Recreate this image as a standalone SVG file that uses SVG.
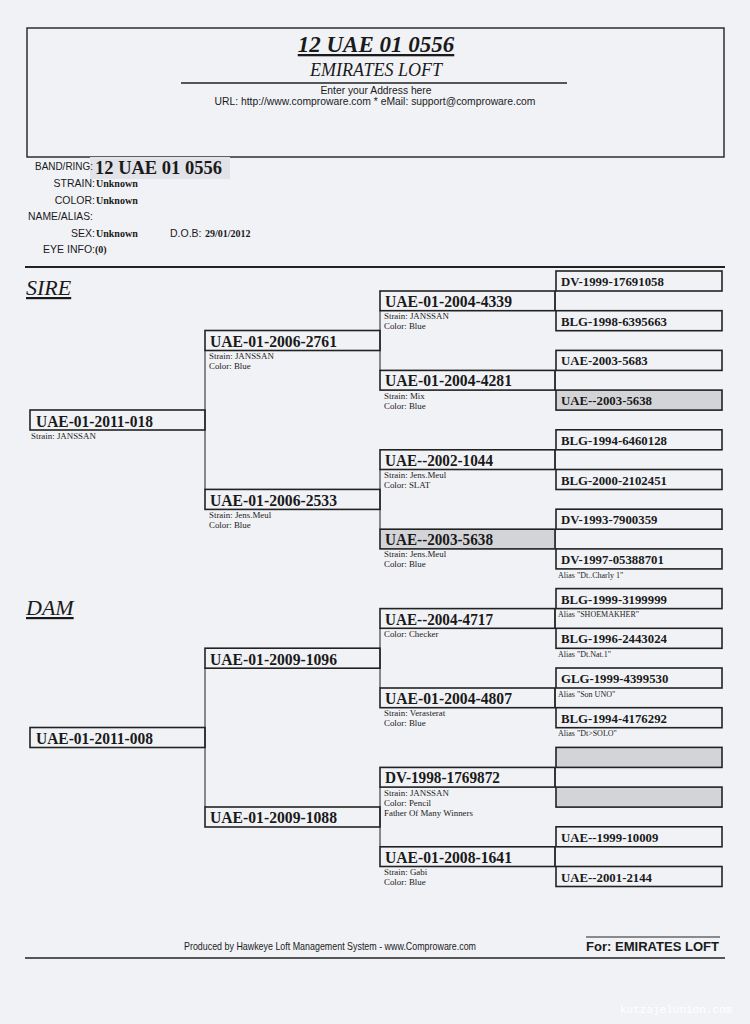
<svg xmlns="http://www.w3.org/2000/svg" width="750" height="1024" viewBox="0 0 750 1024">
<style>
.bx{fill:none;stroke:#222;stroke-width:1.6}
.gy{fill:#d3d4d8;stroke:#222;stroke-width:1.6}
.ln{stroke:#333;stroke-width:1.1;fill:none}
.n1{font-family:'Liberation Serif',serif;font-weight:bold;font-size:17.5px;fill:#1a1a1a}
.n2{font-family:'Liberation Serif',serif;font-weight:bold;font-size:16.5px;fill:#1a1a1a}
.n4{font-family:'Liberation Serif',serif;font-weight:bold;font-size:12.8px;fill:#1a1a1a}
.s{font-family:'Liberation Serif',serif;font-size:8.9px;fill:#222}
.al{font-family:'Liberation Serif',serif;font-size:8px;fill:#222}
.lb{font-family:'Liberation Sans',sans-serif;font-size:10.5px;fill:#1a1a1a}
.v{font-family:'Liberation Serif',serif;font-weight:bold;font-size:10px;fill:#1a1a1a}
.sec{font-family:'Liberation Serif',serif;font-style:italic;font-size:22px;fill:#1a1a1a;text-decoration:underline}
</style>
<rect x="0" y="0" width="750" height="1024" fill="#f1f2f6"/>

<g id="header">
<rect x="27" y="28" width="697" height="129" fill="none" stroke="#222" stroke-width="1.4"/>
<text x="376" y="52" text-anchor="middle" font-family="'Liberation Serif',serif" font-weight="bold" font-style="italic" font-size="23" fill="#1a1a1a" text-decoration="underline">12 UAE 01 0556</text>
<text x="376" y="76" text-anchor="middle" font-family="'Liberation Serif',serif" font-style="italic" font-size="18" fill="#1a1a1a">EMIRATES LOFT</text>
<line x1="181" y1="83" x2="567" y2="83" stroke="#222" stroke-width="1.4"/>
<text x="376" y="94" text-anchor="middle" class="lb" textLength="111" lengthAdjust="spacingAndGlyphs">Enter your Address here</text>
<text x="375" y="105" text-anchor="middle" class="lb" textLength="321" lengthAdjust="spacingAndGlyphs">URL: http://www.comproware.com * eMail: support@comproware.com</text>
</g>

<g id="info">
<rect x="90" y="157" width="140" height="22" fill="#e2e3e8"/>
<text x="35" y="170" class="lb" textLength="58" lengthAdjust="spacingAndGlyphs">BAND/RING:</text>
<text x="95" y="174" font-family="'Liberation Serif',serif" font-weight="bold" font-size="19.5" fill="#1a1a1a" textLength="127" lengthAdjust="spacingAndGlyphs">12 UAE 01 0556</text>
<text x="95" y="187" class="lb" text-anchor="end">STRAIN:</text>
<text x="96" y="187" class="v">Unknown</text>
<text x="95" y="204" class="lb" text-anchor="end">COLOR:</text>
<text x="96" y="204" class="v">Unknown</text>
<text x="28" y="220" class="lb" textLength="65" lengthAdjust="spacingAndGlyphs">NAME/ALIAS:</text>
<text x="95" y="237" class="lb" text-anchor="end">SEX:</text>
<text x="96" y="237" class="v">Unknown</text>
<text x="170" y="237" class="lb">D.O.B:</text>
<text x="205" y="237" class="v" font-size="9.5">29/01/2012</text>
<text x="95" y="253" class="lb" text-anchor="end">EYE INFO:</text>
<text x="95" y="253" class="v">(0)</text>
<line x1="25" y1="267" x2="725" y2="267" stroke="#222" stroke-width="1.8"/>
</g>

<g id="section-labels">
<text x="26" y="295" class="sec">SIRE</text>
<text x="26" y="615" class="sec">DAM</text>
</g>

<g id="connectors" class="ln">
<line x1="205" y1="350.5" x2="205" y2="489.4"/>
<line x1="205" y1="668.2" x2="205" y2="807"/>
<line x1="380" y1="310.7" x2="380" y2="370.4"/>
<line x1="380" y1="469.5" x2="380" y2="529.2"/>
<line x1="380" y1="628.3" x2="380" y2="688"/>
<line x1="380" y1="787.1" x2="380" y2="846.8"/>
<line x1="555" y1="291" x2="555" y2="310.7"/>
<line x1="555" y1="370.4" x2="555" y2="390.1"/>
<line x1="555" y1="449.8" x2="555" y2="469.5"/>
<line x1="555" y1="529.2" x2="555" y2="548.9"/>
<line x1="555" y1="608.6" x2="555" y2="628.3"/>
<line x1="555" y1="688" x2="555" y2="707.7"/>
<line x1="555" y1="767.4" x2="555" y2="787.1"/>
<line x1="555" y1="846.8" x2="555" y2="866.5"/>
</g>

<!-- Generation 1 -->
<g id="sire">
<rect x="30" y="410" width="175" height="20" class="bx"/>
<text x="36" y="426.5" class="n1" textLength="117" lengthAdjust="spacingAndGlyphs">UAE-01-2011-018</text>
<text x="31" y="438.5" class="s">Strain: JANSSAN</text>
</g>
<g id="dam">
<rect x="30" y="727.5" width="175" height="20" class="bx"/>
<text x="36" y="744" class="n1" textLength="117" lengthAdjust="spacingAndGlyphs">UAE-01-2011-008</text>
</g>

<!-- Generation 2 -->
<g id="ss">
<rect x="205" y="330.5" width="175" height="20" class="bx"/>
<text x="210" y="346.8" class="n2" textLength="127" lengthAdjust="spacingAndGlyphs">UAE-01-2006-2761</text>
<text x="209" y="359" class="s">Strain: JANSSAN</text>
<text x="209" y="369" class="s">Color: Blue</text>
</g>
<g id="sd">
<rect x="205" y="489.4" width="175" height="20" class="bx"/>
<text x="210" y="505.7" class="n2" textLength="127" lengthAdjust="spacingAndGlyphs">UAE-01-2006-2533</text>
<text x="209" y="518" class="s">Strain: Jens.Meul</text>
<text x="209" y="528" class="s">Color: Blue</text>
</g>
<g id="ds">
<rect x="205" y="648.2" width="175" height="20" class="bx"/>
<text x="210" y="664.5" class="n2" textLength="127" lengthAdjust="spacingAndGlyphs">UAE-01-2009-1096</text>
</g>
<g id="dd">
<rect x="205" y="807" width="175" height="20" class="bx"/>
<text x="210" y="823.3" class="n2" textLength="127" lengthAdjust="spacingAndGlyphs">UAE-01-2009-1088</text>
</g>

<!-- Generation 3 -->
<g id="sss">
<rect x="380" y="291" width="175" height="19.7" class="bx"/>
<text x="385" y="307" class="n2" textLength="127" lengthAdjust="spacingAndGlyphs">UAE-01-2004-4339</text>
<text x="384" y="319.2" class="s">Strain: JANSSAN</text>
<text x="384" y="329.2" class="s">Color: Blue</text>
</g>
<g id="ssd">
<rect x="380" y="370.4" width="175" height="19.7" class="bx"/>
<text x="385" y="386.4" class="n2" textLength="127" lengthAdjust="spacingAndGlyphs">UAE-01-2004-4281</text>
<text x="384" y="398.6" class="s">Strain: Mix</text>
<text x="384" y="408.6" class="s">Color: Blue</text>
</g>
<g id="sds">
<rect x="380" y="449.8" width="175" height="19.7" class="bx"/>
<text x="385" y="465.8" class="n2" textLength="108" lengthAdjust="spacingAndGlyphs">UAE--2002-1044</text>
<text x="384" y="478" class="s">Strain: Jens.Meul</text>
<text x="384" y="488" class="s">Color: SLAT</text>
</g>
<g id="sdd">
<rect x="380" y="529.2" width="175" height="19.7" class="gy"/>
<text x="385" y="545.2" class="n2" textLength="108" lengthAdjust="spacingAndGlyphs">UAE--2003-5638</text>
<text x="384" y="557.4" class="s">Strain: Jens.Meul</text>
<text x="384" y="567.4" class="s">Color: Blue</text>
</g>
<g id="dss">
<rect x="380" y="608.6" width="175" height="19.7" class="bx"/>
<text x="385" y="624.6" class="n2" textLength="108" lengthAdjust="spacingAndGlyphs">UAE--2004-4717</text>
<text x="384" y="636.8" class="s">Color: Checker</text>
</g>
<g id="dsd">
<rect x="380" y="688" width="175" height="19.7" class="bx"/>
<text x="385" y="704" class="n2" textLength="127" lengthAdjust="spacingAndGlyphs">UAE-01-2004-4807</text>
<text x="384" y="716.2" class="s">Strain: Verasterat</text>
<text x="384" y="726.2" class="s">Color: Blue</text>
</g>
<g id="dds">
<rect x="380" y="767.4" width="175" height="19.7" class="bx"/>
<text x="385" y="783.4" class="n2" textLength="115" lengthAdjust="spacingAndGlyphs">DV-1998-1769872</text>
<text x="384" y="795.6" class="s">Strain: JANSSAN</text>
<text x="384" y="805.6" class="s">Color: Pencil</text>
<text x="384" y="815.6" class="s">Father Of Many Winners</text>
</g>
<g id="ddd">
<rect x="380" y="846.8" width="175" height="19.7" class="bx"/>
<text x="385" y="862.8" class="n2" textLength="127" lengthAdjust="spacingAndGlyphs">UAE-01-2008-1641</text>
<text x="384" y="875" class="s">Strain: Gabi</text>
<text x="384" y="885" class="s">Color: Blue</text>
</g>

<!-- Generation 4 -->
<g id="g4-0"><rect x="556" y="271" width="166" height="20" class="bx"/><text x="561" y="286" class="n4">DV-1999-17691058</text></g>
<g id="g4-1"><rect x="556" y="310.7" width="166" height="20" class="bx"/><text x="561" y="325.7" class="n4">BLG-1998-6395663</text></g>
<g id="g4-2"><rect x="556" y="350.4" width="166" height="20" class="bx"/><text x="561" y="365.4" class="n4">UAE-2003-5683</text></g>
<g id="g4-3"><rect x="556" y="390.1" width="166" height="20" class="gy"/><text x="561" y="405.1" class="n4">UAE--2003-5638</text></g>
<g id="g4-4"><rect x="556" y="429.8" width="166" height="20" class="bx"/><text x="561" y="444.8" class="n4">BLG-1994-6460128</text></g>
<g id="g4-5"><rect x="556" y="469.5" width="166" height="20" class="bx"/><text x="561" y="484.5" class="n4">BLG-2000-2102451</text></g>
<g id="g4-6"><rect x="556" y="509.2" width="166" height="20" class="bx"/><text x="561" y="524.2" class="n4">DV-1993-7900359</text></g>
<g id="g4-7"><rect x="556" y="548.9" width="166" height="20" class="bx"/><text x="561" y="563.9" class="n4">DV-1997-05388701</text><text x="558" y="577.5" class="al">Alias "Dt..Charly 1"</text></g>
<g id="g4-8"><rect x="556" y="588.6" width="166" height="20" class="bx"/><text x="561" y="603.6" class="n4">BLG-1999-3199999</text><text x="558" y="617.2" class="al">Alias "SHOEMAKHER"</text></g>
<g id="g4-9"><rect x="556" y="628.3" width="166" height="20" class="bx"/><text x="561" y="643.3" class="n4">BLG-1996-2443024</text><text x="558" y="656.9" class="al">Alias "Dt.Nat.1"</text></g>
<g id="g4-10"><rect x="556" y="668" width="166" height="20" class="bx"/><text x="561" y="683" class="n4">GLG-1999-4399530</text><text x="558" y="696.6" class="al">Alias "Son UNO"</text></g>
<g id="g4-11"><rect x="556" y="707.7" width="166" height="20" class="bx"/><text x="561" y="722.7" class="n4">BLG-1994-4176292</text><text x="558" y="736.3" class="al">Alias "Dt&gt;SOLO"</text></g>
<g id="g4-12"><rect x="556" y="747.4" width="166" height="20" class="gy"/></g>
<g id="g4-13"><rect x="556" y="787.1" width="166" height="20" class="gy"/></g>
<g id="g4-14"><rect x="556" y="826.8" width="166" height="20" class="bx"/><text x="561" y="841.8" class="n4">UAE--1999-10009</text></g>
<g id="g4-15"><rect x="556" y="866.5" width="166" height="20" class="bx"/><text x="561" y="881.5" class="n4">UAE--2001-2144</text></g>

<g id="footer">
<text x="330" y="950" text-anchor="middle" class="lb" font-size="9.5" textLength="292" lengthAdjust="spacingAndGlyphs">Produced by Hawkeye Loft Management System - www.Comproware.com</text>
<line x1="586" y1="937" x2="720" y2="937" stroke="#222" stroke-width="1.2"/>
<text x="586" y="951" font-family="'Liberation Sans',sans-serif" font-weight="bold" font-size="13.5" fill="#1a1a1a" textLength="133" lengthAdjust="spacingAndGlyphs">For: EMIRATES LOFT</text>
<line x1="25" y1="958" x2="725" y2="958" stroke="#222" stroke-width="1.6"/>
<text x="620" y="1013" font-family="'Liberation Mono',monospace" font-size="11" fill="#ffffff">kutzajelunion.com</text>
</g>
</svg>
